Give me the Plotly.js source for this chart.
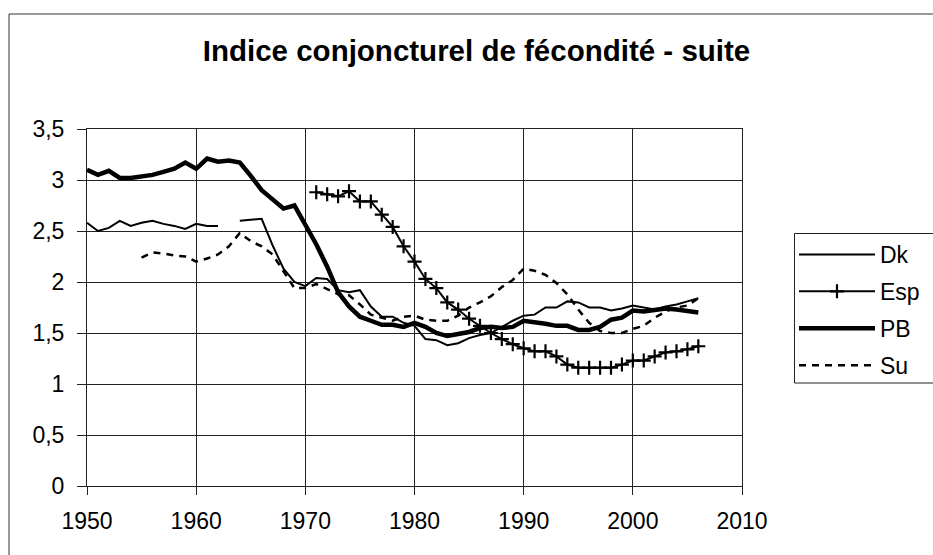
<!DOCTYPE html>
<html>
<head>
<meta charset="utf-8">
<script src="https://cdn.plot.ly/plotly-3.0.1.min.js"></script>
<style>
  html, body { margin: 0; padding: 0; background: #fff; }
  #chart { width: 933px; height: 555px; }
</style>
</head>
<body>
<div id="chart"></div>
<script>
// ---- data ----
const chartTitle = "Indice conjoncturel de fécondité - suite";
const seriesNames = ["Dk", "Esp", "PB", "Su"];

const xTickVals = [1950, 1960, 1970, 1980, 1990, 2000, 2010];
const xTickLabels = ["1950", "1960", "1970", "1980", "1990", "2000", "2010"];
const yTickVals = [0, 0.5, 1, 1.5, 2, 2.5, 3, 3.5];
const yTickLabels = ["0", "0,5", "1", "1,5", "2", "2,5", "3", "3,5"];

const dkYears = [1950,1951,1952,1953,1954,1955,1956,1957,1958,1959,
                 1960,1961,1962,1963,1964,1965,1966,1967,1968,1969,
                 1970,1971,1972,1973,1974,1975,1976,1977,1978,1979,
                 1980,1981,1982,1983,1984,1985,1986,1987,1988,1989,
                 1990,1991,1992,1993,1994,1995,1996,1997,1998,1999,
                 2000,2001,2002,2003,2004,2005,2006];
const dkValues = [2.58,2.50,2.53,2.60,2.55,2.58,2.60,2.57,2.55,2.52,
                  2.57,2.55,2.55,null,2.60,2.61,2.62,2.36,2.13,2.00,
                  1.96,2.04,2.03,1.92,1.90,1.92,1.76,1.66,1.66,1.60,
                  1.57,1.44,1.43,1.38,1.40,1.45,1.48,1.50,1.56,1.62,
                  1.67,1.68,1.75,1.75,1.81,1.80,1.75,1.75,1.72,1.74,
                  1.77,1.75,1.73,1.76,1.78,1.81,1.84];

const espYears = [1971,1972,1973,1974,1975,1976,1977,1978,1979,1980,
                  1981,1982,1983,1984,1985,1986,1987,1988,1989,1990,
                  1991,1992,1993,1994,1995,1996,1997,1998,1999,2000,
                  2001,2002,2003,2004,2005,2006];
const espValues = [2.88,2.86,2.84,2.89,2.79,2.79,2.66,2.54,2.35,2.20,
                   2.03,1.94,1.80,1.73,1.64,1.57,1.50,1.44,1.39,1.35,
                   1.32,1.32,1.27,1.19,1.16,1.16,1.16,1.16,1.19,1.23,
                   1.23,1.27,1.31,1.32,1.34,1.37];

const pbYears = dkYears;
const pbValues = [3.10,3.05,3.09,3.02,3.02,3.03,3.05,3.08,3.11,3.17,
                  3.11,3.21,3.18,3.19,3.17,3.04,2.90,2.81,2.72,2.75,
                  2.57,2.37,2.15,1.90,1.76,1.66,1.62,1.58,1.58,1.56,
                  1.60,1.56,1.50,1.47,1.49,1.51,1.55,1.56,1.55,1.56,
                  1.62,1.61,1.59,1.57,1.57,1.53,1.53,1.56,1.63,1.65,
                  1.72,1.71,1.73,1.74,1.73,1.71,1.70];

const suYears = [1955,1956,1957,1958,1959,
                 1960,1961,1962,1963,1964,1965,1966,1967,1968,1969,
                 1970,1971,1972,1973,1974,1975,1976,1977,1978,1979,
                 1980,1981,1982,1983,1984,1985,1986,1987,1988,1989,
                 1990,1991,1992,1993,1994,1995,1996,1997,1998,1999,
                 2000,2001,2002,2003,2004,2005,2006];
const suValues = [2.24,2.29,2.28,2.26,2.25,
                  2.20,2.23,2.27,2.35,2.48,2.40,2.35,2.27,2.10,1.94,
                  1.94,1.98,1.93,1.88,1.87,1.78,1.68,1.65,1.62,1.66,
                  1.67,1.63,1.62,1.62,1.67,1.75,1.80,1.86,1.95,2.02,
                  2.13,2.11,2.07,1.99,1.88,1.73,1.60,1.52,1.50,1.50,
                  1.54,1.57,1.65,1.71,1.75,1.77,1.84];

// ---- chart ----
const FONT = 'Arial, "Liberation Sans", sans-serif';
const W = 933, H = 555;
const M = { l: 87, r: 191, t: 129, b: 69, autoexpand: false };
const pw = W - M.l - M.r, ph = H - M.t - M.b;
const px = v => (v - M.l) / pw;          // page x -> paper
const py = v => (H - M.b - v) / ph;      // page y -> paper

const traces = [
  { x: dkYears, y: dkValues, name: seriesNames[0], legendgroup: "g0",
    mode: "lines", connectgaps: false,
    line: { color: "#000", width: 2 } },
  { x: espYears, y: espValues, name: seriesNames[1], legendgroup: "g1",
    mode: "lines+markers",
    line: { color: "#000", width: 2 },
    marker: { symbol: "cross-thin", size: 10, color: "#000",
              line: { color: "#000", width: 2.2 } } },
  { x: pbYears, y: pbValues, name: seriesNames[2], legendgroup: "g2",
    mode: "lines",
    line: { color: "#000", width: 4.5 } },
  { x: suYears, y: suValues, name: seriesNames[3], legendgroup: "g3",
    mode: "lines",
    line: { color: "#000", width: 2.5, dash: "7px,6px" } }
];

const layout = {
  width: W, height: H,
  margin: M,
  paper_bgcolor: "#fff", plot_bgcolor: "#fff",
  font: { family: FONT, size: 23, color: "#000" },
  showlegend: true,
  hovermode: false,
  title: {
    text: chartTitle,
    font: { family: FONT, size: 29.5, color: "#000", weight: 700 },
    xref: "container", yref: "container",
    x: 476.5 / W, xanchor: "center",
    y: 1 - 51 / H, yanchor: "middle"
  },
  xaxis: {
    range: [1950, 2010],
    tickmode: "array", tickvals: xTickVals, ticktext: xTickLabels,
    showgrid: true, gridcolor: "#222", gridwidth: 1,
    ticks: "outside", ticklen: 8, tickwidth: 1, tickcolor: "#222",
    showline: true, mirror: true, linecolor: "#222", linewidth: 1,
    zeroline: false,
    tickfont: { family: FONT, size: 23, color: "#000" },
    ticklabelstandoff: 6,
    fixedrange: true
  },
  yaxis: {
    range: [0, 3.5],
    tickmode: "array", tickvals: yTickVals, ticktext: yTickLabels,
    showgrid: true, gridcolor: "#222", gridwidth: 1,
    ticks: "outside", ticklen: 9, tickwidth: 1, tickcolor: "#222",
    showline: true, mirror: true, linecolor: "#222", linewidth: 1,
    zeroline: true, zerolinecolor: "#333", zerolinewidth: 2,
    tickfont: { family: FONT, size: 23, color: "#000" },
    ticklabelstandoff: 8,
    fixedrange: true
  },
  legend: {
    x: px(794), y: py(233), xanchor: "left", yanchor: "top",
    bgcolor: "rgba(255,255,255,0)", borderwidth: 0,
    font: { family: FONT, size: 23, color: "#000" },
    itemwidth: 76, tracegroupgap: 4,
    traceorder: "grouped"
  },
  shapes: [
    { type: "rect", xref: "paper", yref: "paper",
      x0: px(9), x1: px(945), y0: py(570), y1: py(14),
      line: { color: "#333", width: 1 }, fillcolor: "rgba(0,0,0,0)",
      layer: "below" },
    { type: "rect", xref: "paper", yref: "paper",
      x0: px(794.5), x1: px(945), y0: py(383), y1: py(233.5),
      line: { color: "#222", width: 1 }, fillcolor: "rgba(0,0,0,0)",
      layer: "above" }
  ]
};

Plotly.newPlot("chart", traces, layout, { staticPlot: true, displayModeBar: false });
</script>
</body>
</html>
